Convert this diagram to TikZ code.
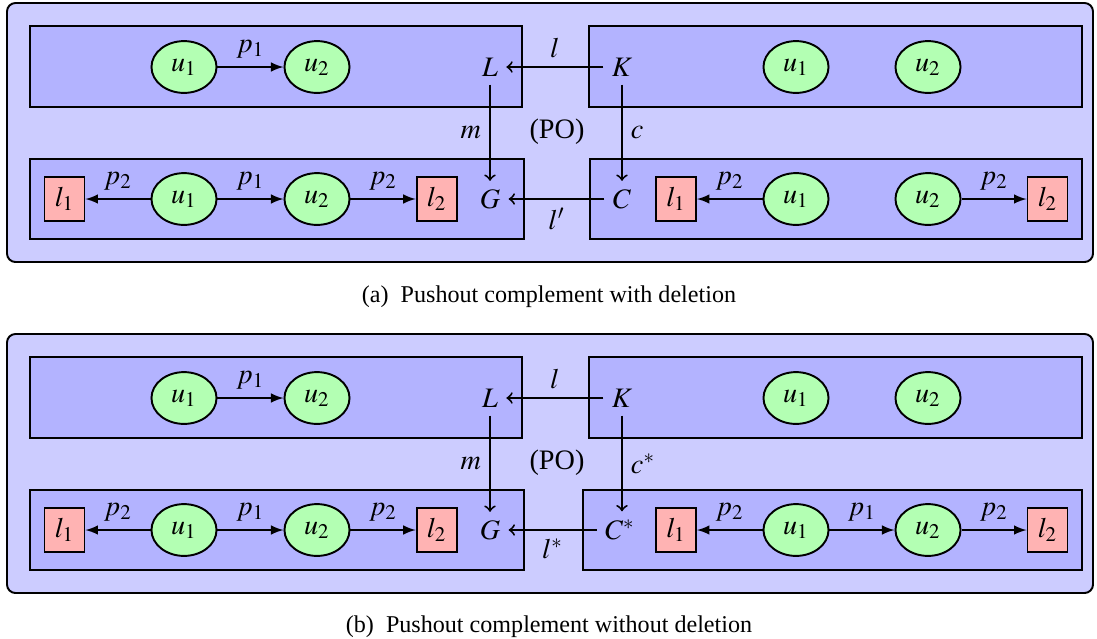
\documentclass[tikz,border=0pt]{standalone}
\usepackage{mathptmx}
\usepackage{fontspec}
\setmainfont{Liberation Serif}
\usetikzlibrary{shapes.geometric}

\definecolor{outerfill}{RGB}{204,204,255}
\definecolor{boxfill}{RGB}{179,179,255}
\definecolor{vertfill}{RGB}{179,255,179}
\definecolor{labfill}{RGB}{255,179,179}

\begin{document}
\begin{tikzpicture}
 [x=0.415pt, y=-0.415pt, font=\fontsize{11.7pt}{14pt}\selectfont,
  outer box/.style={draw, thick, fill=outerfill, rounded corners=3.5pt},
  graph box/.style={draw, thick, fill=boxfill},
  vertex node/.style={ellipse, draw, thick, fill=vertfill, minimum width=27pt, minimum height=21.5pt, inner sep=0pt},
  label node/.style={rectangle, draw, thick, fill=labfill, minimum width=16.6pt, minimum height=18.3pt, inner sep=0pt},
  caption node/.style={font=\fontsize{10pt}{12pt}\selectfont},
  morph/.style={->, thick},
  edge arrow/.style={-latex, thick}]

\useasboundingbox (0,0) rectangle (1097,638);

% (a) with deletion
\draw[outer box] (7,3) rectangle (1093,262);
\draw[graph box] (30,26) rectangle (522,107);
\draw[graph box] (589,26) rectangle (1082,107);
\draw[graph box] (30,159) rectangle (524,239);
\draw[graph box] (590,159) rectangle (1082,239);

\node[vertex node] (Lu1a) at (184,67) {$u_1$};
\node[vertex node] (Lu2a) at (317,67) {$u_2$};
\node (La) at (490,67) {$L$};
\node (Ka) at (622,67) {$K$};
\node[vertex node] (Ku1a) at (796,67) {$u_1$};
\node[vertex node] (Ku2a) at (928,67) {$u_2$};

\node[label node] (Gl1a) at (64.5,199) {$l_1$};
\node[vertex node] (Gu1a) at (184,199) {$u_1$};
\node[vertex node] (Gu2a) at (317,199) {$u_2$};
\node[label node] (Gl2a) at (436.7,199) {$l_2$};
\node (Ga) at (490,199) {$G$};
\node (Ca) at (622,199) {$C$};
\node[label node] (Cl1a) at (676,199) {$l_1$};
\node[vertex node] (Cu1a) at (796,199) {$u_1$};
\node[vertex node] (Cu2a) at (928,199) {$u_2$};
\node[label node] (Cl2a) at (1047.5,199) {$l_2$};
\node (POa) at (557,132) {(PO)};

\path
  (Lu1a) edge [edge arrow] node [above] {$p_1$} (Lu2a)
  (Gu1a) edge [edge arrow] node [above] {$p_2$} (Gl1a)
  (Gu1a) edge [edge arrow] node [above] {$p_1$} (Gu2a)
  (Gu2a) edge [edge arrow] node [above] {$p_2$} (Gl2a)
  (Cu1a) edge [edge arrow] node [above] {$p_2$} (Cl1a)
  (Cu2a) edge [edge arrow] node [above] {$p_2$} (Cl2a)
  (Ka) edge [morph] node [above] {$l$} (La)
  (La) edge [morph] node [left] {$m$} (Ga)
  (Ka) edge [morph] node [right] {$c$} (Ca)
  (Ca) edge [morph] node [below] {$l'$} (Ga);

\node[caption node] (capa) at (549,297) {(a)~~Pushout complement with deletion};

% (b) without deletion
\draw[outer box] (7,334) rectangle (1093,593);
\draw[graph box] (30,357) rectangle (522,438);
\draw[graph box] (589,357) rectangle (1082,438);
\draw[graph box] (30,490) rectangle (524,570);
\draw[graph box] (583,490) rectangle (1082,570);

\node[vertex node] (Lu1b) at (184,398) {$u_1$};
\node[vertex node] (Lu2b) at (317,398) {$u_2$};
\node (Lb) at (490,398) {$L$};
\node (Kb) at (622,398) {$K$};
\node[vertex node] (Ku1b) at (796,398) {$u_1$};
\node[vertex node] (Ku2b) at (928,398) {$u_2$};

\node[label node] (Gl1b) at (64.5,530) {$l_1$};
\node[vertex node] (Gu1b) at (184,530) {$u_1$};
\node[vertex node] (Gu2b) at (317,530) {$u_2$};
\node[label node] (Gl2b) at (436.7,530) {$l_2$};
\node (Gb) at (490,530) {$G$};
\node (Cb) at (620,530) {$C^*$};
\node[label node] (Cl1b) at (676,530) {$l_1$};
\node[vertex node] (Cu1b) at (796,530) {$u_1$};
\node[vertex node] (Cu2b) at (928,530) {$u_2$};
\node[label node] (Cl2b) at (1047.5,530) {$l_2$};
\node (POb) at (557,463) {(PO)};

\path
  (Lu1b) edge [edge arrow] node [above] {$p_1$} (Lu2b)
  (Gu1b) edge [edge arrow] node [above] {$p_2$} (Gl1b)
  (Gu1b) edge [edge arrow] node [above] {$p_1$} (Gu2b)
  (Gu2b) edge [edge arrow] node [above] {$p_2$} (Gl2b)
  (Cu1b) edge [edge arrow] node [above] {$p_2$} (Cl1b)
  (Cu1b) edge [edge arrow] node [above] {$p_1$} (Cu2b)
  (Cu2b) edge [edge arrow] node [above] {$p_2$} (Cl2b)
  (Kb) edge [morph] node [above] {$l$} (Lb)
  (Lb) edge [morph] node [left] {$m$} (Gb)
  (Kb.south) edge [morph] node [right] {$c^*$} (Kb.south |- Cb.north)
  (Cb) edge [morph] node [below] {$l^*$} (Gb);

\node[caption node] (capb) at (549,627) {(b)~~Pushout complement without deletion};

\end{tikzpicture}
\end{document}
